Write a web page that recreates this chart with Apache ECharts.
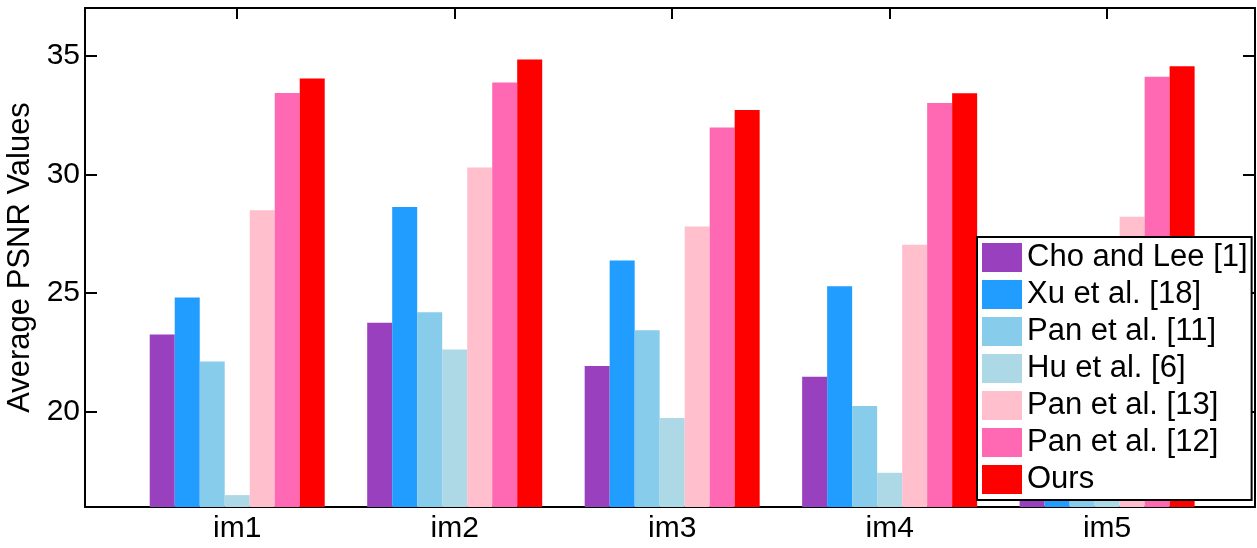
<!DOCTYPE html>
<html>
<head>
<meta charset="utf-8">
<style>
  html, body { margin: 0; padding: 0; background: #fff; }
  #chart { width: 1257px; height: 548px; }
</style>
<script src="https://cdn.jsdelivr.net/npm/echarts@6/dist/echarts.min.js"></script>
</head>
<body>
<div id="chart"></div>
<script>
// images on the x axis
var categories = ['im1', 'im2', 'im3', 'im4', 'im5'];
var yTicks = [20, 25, 30, 35];

var methods = ['Cho and Lee [1]', 'Xu et al. [18]', 'Pan et al. [11]', 'Hu et al. [6]', 'Pan et al. [13]', 'Pan et al. [12]', 'Ours'];
var colors = ['#9940bf', '#219cff', '#88cceb', '#add8e6', '#ffbfcd', '#ff69b4', '#ff0000'];

// PSNR per method, one value per image (im5 bars of the first four are hidden by the legend)
var choLee = [23.26, 23.75, 21.93, 21.48, 22.4];
var xu = [24.82, 28.62, 26.37, 25.29, 26.0];
var pan11 = [22.12, 24.20, 23.44, 20.25, 21.2];
var hu = [16.50, 22.63, 19.75, 17.44, 18.0];
var pan13 = [28.49, 30.29, 27.80, 27.04, 28.22];
var pan12 = [33.42, 33.86, 31.97, 33.00, 34.11];
var ours = [34.03, 34.83, 32.71, 33.41, 34.55];

var allValues = [choLee, xu, pan11, hu, pan13, pan12, ours];
var catPos = categories.map(function (c, i) { return i + 1 });

var font = "'Liberation Sans', Arial, sans-serif";

var chart = echarts.init(document.getElementById('chart'));

var series = methods.map(function (name, k) {
  return {
    name: name,
    type: 'bar',
    barWidth: 25,
    barGap: '0%',
    itemStyle: { color: colors[k] },
    data: allValues[k].map(function (v, i) { return [catPos[i], v] })
  }
});

var axisLine = { show: true, lineStyle: { color: '#000', width: 2 } };

chart.setOption({
  backgroundColor: '#fff',
  animation: false,
  grid: { left: 85, right: 2, top: 8, bottom: 41, containLabel: false, outerBoundsMode: 'none' },
  legend: {
    orient: 'vertical',
    left: 977,
    top: 237,
    icon: 'rect',
    itemWidth: 40,
    itemHeight: 29,
    itemGap: 6,
    padding: [5, 4, 5, 5],
    backgroundColor: '#fff',
    borderColor: '#000',
    borderWidth: 2,
    textStyle: { fontSize: 31, color: '#000', fontFamily: font },
    data: methods
  },
  xAxis: [{
    type: 'value',
    min: 0.3,
    max: 5.68,
    axisLine: axisLine,
    splitLine: { show: false },
    axisTick: { show: true, inside: true, length: 11, customValues: catPos, lineStyle: { color: '#000', width: 2 } },
    axisLabel: {
      customValues: catPos,
      margin: 7,
      fontSize: 30,
      color: '#000',
      fontFamily: font,
      formatter: function (v) { return categories[Math.round(v) - 1] }
    }
  }, {
    type: 'value',
    position: 'top',
    min: 0.3,
    max: 5.68,
    axisLine: axisLine,
    splitLine: { show: false },
    axisTick: { show: true, inside: true, length: 11, customValues: catPos, lineStyle: { color: '#000', width: 2 } },
    axisLabel: { show: false }
  }],
  yAxis: [{
    type: 'value',
    min: 16,
    max: 37,
    name: 'Average PSNR Values',
    nameLocation: 'middle',
    nameGap: 47,
    nameTextStyle: { fontSize: 31, color: '#000', fontFamily: font },
    axisLine: axisLine,
    splitLine: { show: false },
    axisTick: { show: true, inside: true, length: 12, customValues: yTicks, lineStyle: { color: '#000', width: 2 } },
    axisLabel: { customValues: yTicks, margin: 5, fontSize: 30, color: '#000', fontFamily: font }
  }, {
    type: 'value',
    position: 'right',
    min: 16,
    max: 37,
    axisLine: axisLine,
    splitLine: { show: false },
    axisTick: { show: true, inside: true, length: 12, customValues: yTicks, lineStyle: { color: '#000', width: 2 } },
    axisLabel: { show: false }
  }],
  series: series
});
</script>
</body>
</html>
